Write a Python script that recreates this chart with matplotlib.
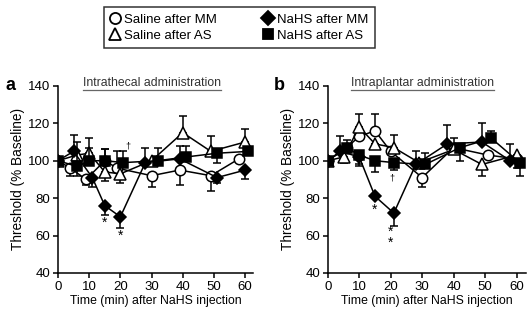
import numpy as np
import matplotlib
matplotlib.use("Agg")
import matplotlib.pyplot as plt
from matplotlib.lines import Line2D

plt.rcParams['font.family'] = ['Liberation Sans', 'DejaVu Sans']

# nominal sampling times (min)
times = [0, 5, 10, 15, 20, 30, 40, 50, 60]

# Panel a: intrathecal administration (% baseline)
a_sal_mm = [100, 96, 90, 100, 96, 92, 95, 92, 101]
a_sal_mm_lo = [0, 4, 3, 0, 0, 6, 8, 8, 0]
a_sal_mm_hi = [0, 0, 0, 6, 9, 0, 0, 0, 0]
a_sal_as = [100, 103, 104, 94, 93, 100, 115, 105, 110]
a_sal_as_lo = [0, 0, 0, 5, 5, 0, 0, 0, 0]
a_sal_as_hi = [0, 0, 8, 0, 0, 0, 9, 8, 7]
a_nahs_mm = [100, 105, 91, 76, 70, 99, 101, 91, 95]
a_nahs_mm_lo = [0, 0, 5, 5, 6, 0, 0, 3, 5]
a_nahs_mm_hi = [0, 9, 0, 0, 0, 8, 7, 0, 0]
a_nahs_as = [100, 97, 100, 100, 99, 100, 102, 104, 105]
a_nahs_as_lo = [0, 5, 0, 0, 0, 0, 0, 5, 0]
a_nahs_as_hi = [0, 13, 7, 6, 6, 7, 6, 0, 0]

# Panel b: intraplantar administration (% baseline)
b_sal_mm = [100, 107, 113, 116, 105, 91, 107, 103, 101]
b_sal_mm_lo = [0, 0, 0, 0, 0, 5, 0, 0, 0]
b_sal_mm_hi = [0, 0, 3, 9, 0, 0, 5, 0, 0]
b_sal_as = [100, 102, 118, 109, 107, 99, 106, 98, 103]
b_sal_as_lo = [0, 3, 0, 0, 0, 0, 0, 6, 7]
b_sal_as_hi = [0, 0, 7, 0, 7, 0, 0, 0, 0]
b_nahs_mm = [100, 105, 102, 81, 72, 98, 109, 110, 100]
b_nahs_mm_lo = [0, 0, 5, 0, 7, 0, 0, 0, 0]
b_nahs_mm_hi = [0, 8, 0, 0, 0, 7, 10, 10, 9]
b_nahs_as = [100, 107, 103, 100, 99, 98, 107, 112, 99]
b_nahs_as_lo = [0, 0, 5, 6, 4, 0, 7, 0, 7]
b_nahs_as_hi = [0, 4, 0, 0, 0, 6, 0, 4, 0]

labels = ['Saline after MM', 'Saline after AS', 'NaHS after MM', 'NaHS after AS']

# series styles: marker, face colour, size
styles = [('o', 'white', 7.5), ('^', 'white', 8), ('D', 'black', 6.5), ('s', 'black', 7)]

# horizontal dodge so overlapping points stay visible
dodge_a = [[0, -1, -1, 0, -1, 0, -1, -1, -2],
           [0, 1, 0, 0, 0, 0, 0, -1, 0],
           [0, 0, 1, 0, 0, -2, -1, 1, 0],
           [0, 1, 0, 0, 1, 2, 1, 1, 1]]
dodge_b = [[0, 1, 0, 0, 0, 0, 0, 1, 0],
           [0, 0, 0, 0, 1, -1, 0, -1, 0],
           [0, -1, 0, 0, 1, -2, -2, -1, -2],
           [0, 1, 0, 0, 1, 1, 2, 2, 1]]

panel_a = [(a_sal_mm, a_sal_mm_lo, a_sal_mm_hi), (a_sal_as, a_sal_as_lo, a_sal_as_hi),
           (a_nahs_mm, a_nahs_mm_lo, a_nahs_mm_hi), (a_nahs_as, a_nahs_as_lo, a_nahs_as_hi)]
panel_b = [(b_sal_mm, b_sal_mm_lo, b_sal_mm_hi), (b_sal_as, b_sal_as_lo, b_sal_as_hi),
           (b_nahs_mm, b_nahs_mm_lo, b_nahs_mm_hi), (b_nahs_as, b_nahs_as_lo, b_nahs_as_hi)]

fig = plt.figure(figsize=(5.27, 3.17), dpi=100)
ax_a = fig.add_axes([0.110, 0.139, 0.370, 0.590])
ax_b = fig.add_axes([0.622, 0.139, 0.376, 0.590])


def draw_panel(ax, series, dodge, title, letter, xmax):
    for i, ((y, lo, hi), (m, fc, ms)) in enumerate(zip(series, styles)):
        x = np.array(times) + np.array(dodge[i])
        ax.errorbar(x, y, yerr=[lo, hi], fmt='-', marker=m, mfc=fc, mec='black',
                    ms=ms, mew=1.1, color='black', lw=1.1, elinewidth=1.1,
                    capsize=2.8, capthick=1.1, zorder=3 + i)
    ax.set_xlim(0, xmax)
    ax.set_ylim(40, 140)
    ax.set_xticks(range(0, 61, 10))
    ax.set_yticks(range(40, 141, 20))
    for s in ['top', 'right']:
        ax.spines[s].set_visible(False)
    for s in ['left', 'bottom']:
        ax.spines[s].set_linewidth(1.1)
    ax.tick_params(direction='out', length=3.5, width=1.1, labelsize=9.5, pad=2)
    ax.set_ylabel('Threshold (% Baseline)', fontsize=9.8, labelpad=2)
    ax.set_xlabel('Time (min) after NaHS injection', fontsize=8.8, labelpad=2)
    t = ax.text(30, 141.5, title, ha='center', va='center', fontsize=8.8, color='#333333')
    ax.text(-0.27, 1.0, letter, transform=ax.transAxes, fontsize=13,
            fontweight='bold', ha='left', va='center')
    return t


t_a = draw_panel(ax_a, panel_a, dodge_a, 'Intrathecal administration', 'a', 62.5)
t_b = draw_panel(ax_b, panel_b, dodge_b, 'Intraplantar administration', 'b', 63)

# significance marks
ax_a.text(15, 67, '*', ha='center', va='center', fontsize=10)
ax_a.text(20, 60, '*', ha='center', va='center', fontsize=10)
ax_a.text(22.5, 108, '\u2020', ha='center', va='center', fontsize=6.5)
ax_b.text(15, 74, '*', ha='center', va='center', fontsize=10)
ax_b.text(20, 59, '*\n*', ha='center', va='center', fontsize=10, linespacing=0.75)
ax_b.text(20.5, 91, '\u2020', ha='center', va='center', fontsize=6.5)

# underline the panel titles
fig.canvas.draw()
r = fig.canvas.get_renderer()
for t in (t_a, t_b):
    bb = t.get_window_extent(r).transformed(fig.transFigure.inverted())
    fig.add_artist(Line2D([bb.x0, bb.x1], [bb.y0 - 0.003, bb.y0 - 0.003],
                          transform=fig.transFigure, color='#666666', lw=0.9))

# legend box
handles = [Line2D([], [], ls='none', marker=m, mfc=fc, mec='black', ms=ms + 0.5, mew=1.3)
           for m, fc, ms in styles]
leg = fig.legend(handles, labels, loc='center', bbox_to_anchor=(0.455, 0.913), ncol=2,
                 fontsize=9.5, frameon=True, fancybox=False, edgecolor='black',
                 handlelength=0.6, handletextpad=0.4, columnspacing=3.6,
                 labelspacing=0.3, borderpad=0.5, borderaxespad=0)
leg.get_frame().set_linewidth(1.1)

fig.savefig('out.png', dpi=100)
